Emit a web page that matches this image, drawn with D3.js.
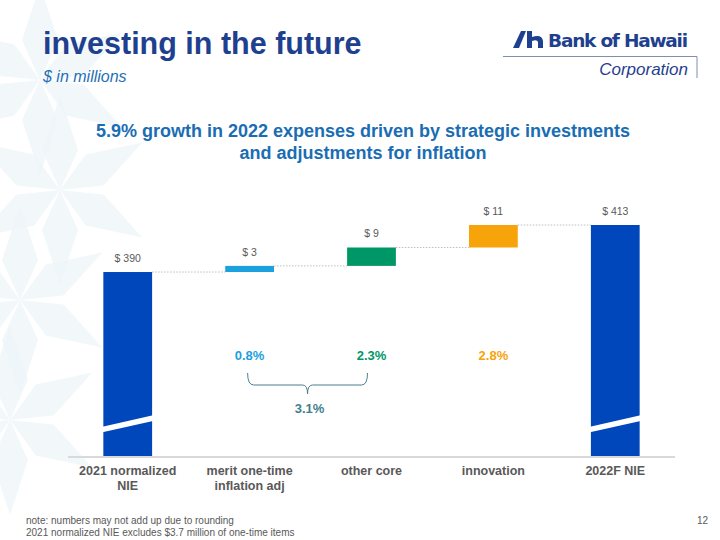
<!DOCTYPE html>
<html>
<head>
<meta charset="utf-8">
<script src="https://cdn.jsdelivr.net/npm/d3@7"></script>
<style>
  body { margin: 0; background: #fff; }
  svg { font-family: "Liberation Sans", Arial, sans-serif; }
</style>
</head>
<body>
<div id="chart"></div>
<script>
// данные
const categories = ["2021 normalized NIE", "merit one-time inflation adj", "other core", "innovation", "2022F NIE"];
const labelLines = [["2021 normalized", "NIE"], ["merit one-time", "inflation adj"], ["other core"], ["innovation"], ["2022F NIE"]];
const values = [390, 3, 9, 11, 413];
const kinds = ["total", "step", "step", "step", "total"];
const valueLabels = ["$ 390", "$ 3", "$ 9", "$ 11", "$ 413"];
const pctLabels = [null, "0.8%", "2.3%", "2.8%", null];
const groupPct = "3.1%";

const colors = ["#0047BB", "#1BA1DE", "#009767", "#F7A30A", "#0047BB"];

const svg = d3.select("#chart").append("svg")
    .attr("width", 720).attr("height", 540);

// фон - бледные звёзды слева
const bg = svg.append("g").attr("fill", "#eef6f8");
const stars = [[40, 80], [20, 300], [60, 190], [10, 420]];
stars.forEach(([cx, cy]) => {
    for (let k = 0; k < 6; k++) {
        const a = k * Math.PI / 3;
        const p = [[0, 0], [18, -40], [0, -95], [-18, -40]].map(([x, y]) =>
            [cx + x * Math.cos(a) - y * Math.sin(a), cy + x * Math.sin(a) + y * Math.cos(a)]);
        bg.append("path").attr("d", d3.line()(p) + "Z").attr("opacity", 0.75);
    }
});

// шкалы
const x = d3.scaleBand().domain(categories).range([68, 675]).paddingInner(0.6).paddingOuter(0.29);
const y = d3.scaleLinear().domain([300, 420]).range([456, 210.7]);

// накопленные значения
let run = 0;
const bars = categories.map((c, i) => {
    let y0, y1;
    if (kinds[i] === "total") { y0 = 300; y1 = values[i]; run = values[i]; }
    else { y0 = run; y1 = run + values[i]; run = y1; }
    return { c, i, y0, y1 };
});

// соединительные пунктиры
const conn = svg.append("g").attr("stroke", "#bfbfbf").attr("stroke-width", 1).attr("stroke-dasharray", "1.5,1.5");
bars.slice(0, -1).forEach((b, i) => {
    const n = bars[i + 1];
    conn.append("line")
        .attr("x1", x(b.c) + x.bandwidth()).attr("x2", x(n.c))
        .attr("y1", y(b.y1)).attr("y2", y(b.y1));
});

// столбики
svg.append("g").selectAll("rect").data(bars).enter().append("rect")
    .attr("x", d => x(d.c))
    .attr("width", x.bandwidth())
    .attr("y", d => y(d.y1))
    .attr("height", d => y(d.y0) - y(d.y1))
    .attr("fill", d => colors[d.i]);

// разрывы на итоговых столбиках
bars.filter(d => kinds[d.i] === "total").forEach(d => {
    const x0 = x(d.c) - 2, x1 = x(d.c) + x.bandwidth() + 2;
    svg.append("path")
        .attr("d", `M${x0},${y(311.5)} L${x1},${y(317.3)} L${x1},${y(320)} L${x0},${y(314.2)}Z`)
        .attr("fill", "#fff");
});

// ось
svg.append("line").attr("x1", 68).attr("x2", 675).attr("y1", 457).attr("y2", 457)
    .attr("stroke", "#d9d9d9").attr("stroke-width", 2);

// подписи значений
svg.append("g").selectAll("text").data(bars).enter().append("text")
    .attr("x", d => x(d.c) + x.bandwidth() / 2)
    .attr("y", d => y(d.y1) - 10)
    .attr("text-anchor", "middle")
    .attr("font-size", 10.5).attr("fill", "#595959")
    .text(d => valueLabels[d.i]);

// подписи категорий
const cat = svg.append("g").attr("font-size", 12.5).attr("font-weight", "bold").attr("fill", "#595959")
    .attr("text-anchor", "middle");
labelLines.forEach((lines, i) => {
    lines.forEach((t, j) => {
        cat.append("text").attr("x", x(categories[i]) + x.bandwidth() / 2)
            .attr("y", 475 + j * 15).text(t);
    });
});

// проценты
svg.append("g").selectAll("text").data(bars.filter(d => pctLabels[d.i])).enter().append("text")
    .attr("x", d => x(d.c) + x.bandwidth() / 2)
    .attr("y", 360)
    .attr("text-anchor", "middle")
    .attr("font-size", 13).attr("font-weight", "bold")
    .attr("fill", d => colors[d.i])
    .text(d => pctLabels[d.i]);

// фигурная скобка
const bx0 = x(categories[1]) + x.bandwidth() / 2 - 2, bx1 = x(categories[2]) + x.bandwidth() / 2 - 4;
const bm = (bx0 + bx1) / 2;
svg.append("path")
    .attr("d", `M${bx0},373 Q${bx0},385 ${bx0 + 6},385 L${bm - 5},385 Q${bm},385 ${bm},394 Q${bm},385 ${bm + 5},385 L${bx1 - 6},385 Q${bx1},385 ${bx1},373`)
    .attr("fill", "none").attr("stroke", "#4a7f8f").attr("stroke-width", 1);
svg.append("text").attr("x", bm + 2).attr("y", 413).attr("text-anchor", "middle")
    .attr("font-size", 13).attr("font-weight", "bold").attr("fill", "#3f7f8f").text(groupPct);

// заголовки
svg.append("text").attr("x", 43).attr("y", 54).attr("font-size", 30.5).attr("font-weight", "bold")
    .attr("fill", "#1f3f8f").text("investing in the future");
svg.append("text").attr("x", 43).attr("y", 82).attr("font-size", 16).attr("font-style", "italic")
    .attr("fill", "#1f6fb5").text("$ in millions");
svg.append("text").attr("x", 363).attr("y", 137).attr("text-anchor", "middle").attr("font-size", 18)
    .attr("font-weight", "bold").attr("fill", "#1a6db3").text("5.9% growth in 2022 expenses driven by strategic investments");
svg.append("text").attr("x", 363).attr("y", 159).attr("text-anchor", "middle").attr("font-size", 18)
    .attr("font-weight", "bold").attr("fill", "#1a6db3").text("and adjustments for inflation");

// логотип
const logo = svg.append("g").attr("fill", "#1f3f8f");
logo.append("path").attr("d", "M513,48 L521,31 L526,31 L519,48Z");
logo.append("path").attr("d", "M527,48 L527,31 L532,31 L532,37 Q542,34 543,41 L543,48 L538,48 L538,42 Q537,39 532,41 L532,48Z");
logo.append("text").attr("x", 548).attr("y", 47).attr("font-size", 18.5).attr("font-weight", "bold")
    .attr("font-family", "'DejaVu Sans', sans-serif").attr("textLength", 140).text("Bank of Hawaii");
svg.append("path").attr("d", "M503,56.5 H697 V78").attr("fill", "none").attr("stroke", "#7f8fb0").attr("stroke-width", 1);
svg.append("text").attr("x", 688).attr("y", 75).attr("text-anchor", "end").attr("font-size", 17)
    .attr("font-style", "italic").attr("fill", "#1f3f8f").text("Corporation");

// сноски
const foot = svg.append("g").attr("font-size", 10).attr("fill", "#595959");
foot.append("text").attr("x", 26).attr("y", 524).text("note: numbers may not add up due to rounding");
foot.append("text").attr("x", 26).attr("y", 536).text("2021 normalized NIE excludes $3.7 million of one-time items");
foot.append("text").attr("x", 708).attr("y", 524).attr("text-anchor", "end").text("12");
</script>
</body>
</html>
